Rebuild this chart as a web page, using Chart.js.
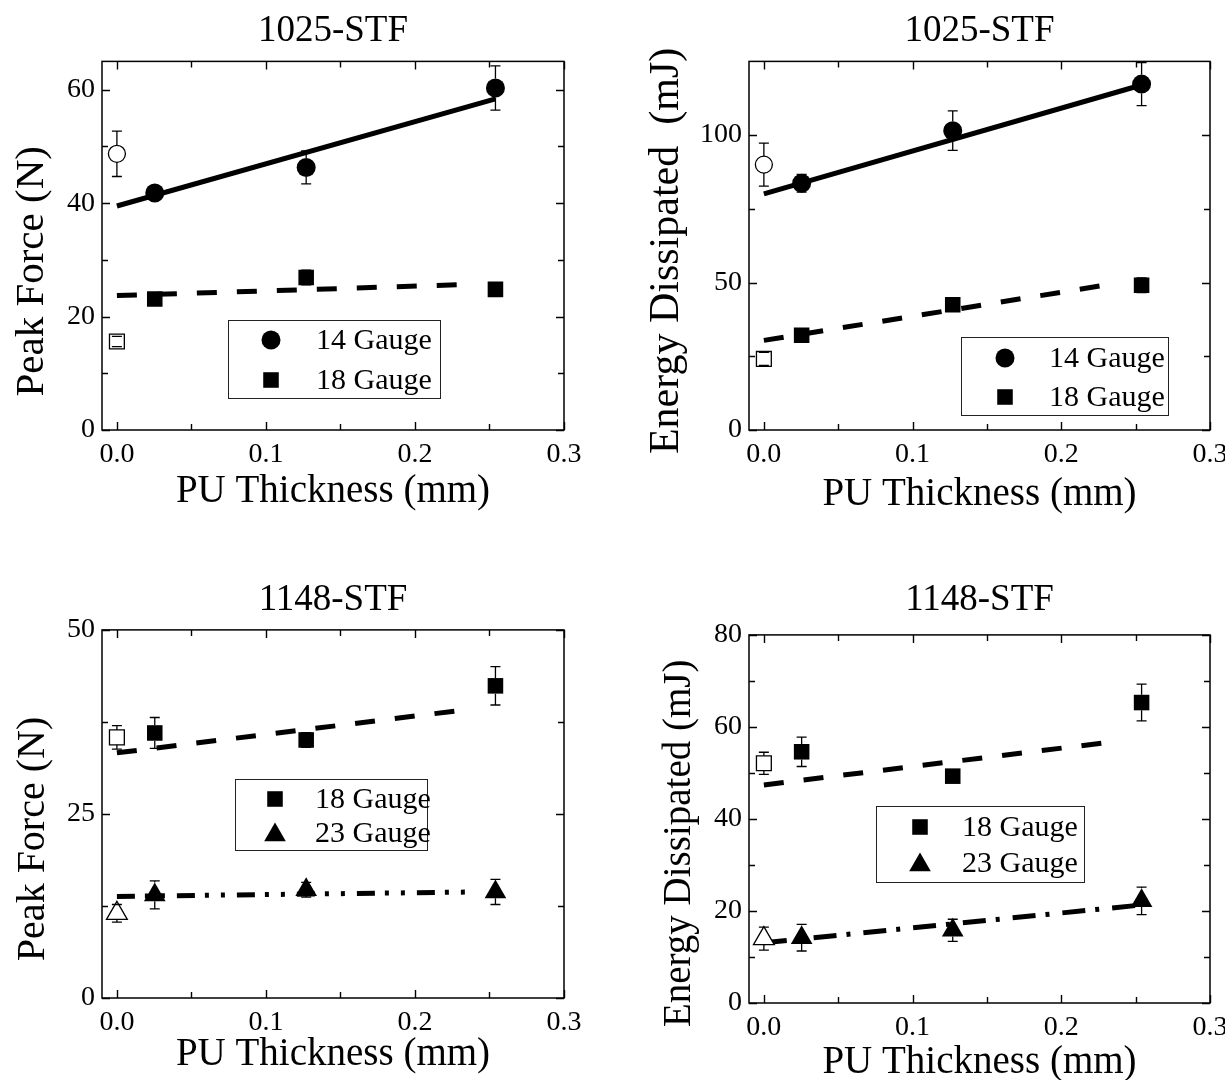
<!DOCTYPE html>
<html>
<head>
<meta charset="utf-8">
<script src="https://cdn.jsdelivr.net/npm/chart.js@4/dist/chart.umd.min.js"></script>
<style>
html,body{margin:0;padding:0;background:#fff;overflow:hidden;width:1225px;height:1080px;}
canvas{position:absolute;display:block;}
</style>
</head>
<body>
<canvas id="c1" width="612" height="520" style="left:0;top:0"></canvas>
<canvas id="c2" width="613" height="520" style="left:612px;top:0"></canvas>
<canvas id="c3" width="612" height="520" style="left:0;top:560px"></canvas>
<canvas id="c4" width="613" height="520" style="left:612px;top:563px"></canvas>
<script>
// ---------- DATA ----------
const thickness = [0.0254, 0.127, 0.254];   // PU thickness (mm)
const bareThickness = [0];                  // neat STF (no PU)
const xTickValues = [0, 0.1, 0.2, 0.3];
const xTickLabels = ['0.0', '0.1', '0.2', '0.3'];
const xMinorTicks = [0.05, 0.15, 0.25];

// 1025-STF, Peak Force (N)
const pf1025_g14 = [41.8, 46.3, 60.3];
const pf1025_g14_err = [1.2, 2.9, 3.9];
const pf1025_g14_bare = [48.7];
const pf1025_g14_bare_err = [4.0];
const pf1025_g18 = [23.1, 26.9, 24.8];
const pf1025_g18_err = [0.9, 1.3, 1.0];
const pf1025_g18_bare = [15.6];
const pf1025_g18_bare_err = [0.9];
const pf1025_g14_fitX = [0, 0.254];
const pf1025_g14_fit = [39.5, 58.4];
const pf1025_g18_fitX = [0, 0.228];
const pf1025_g18_fit = [23.7, 25.6];
const pf1025_yTicks = [0, 20, 40, 60];
const pf1025_yMinor = [10, 30, 50];

// 1025-STF, Energy Dissipated (mJ)
const en1025_g14 = [83.7, 101.5, 117.3];
const en1025_g14_err = [3.0, 6.7, 7.3];
const en1025_g14_bare = [90.0];
const en1025_g14_bare_err = [7.3];
const en1025_g18 = [32.1, 42.5, 49.1];
const en1025_g18_err = [1.0, 1.2, 2.5];
const en1025_g18_bare = [24.1];
const en1025_g18_bare_err = [2.2];
const en1025_g14_fitX = [0, 0.254];
const en1025_g14_fit = [80.1, 117.0];
const en1025_g18_fitX = [0, 0.228];
const en1025_g18_fit = [30.4, 49.0];
const en1025_yTicks = [0, 50, 100];
const en1025_yMinor = [25, 75];

// 1148-STF, Peak Force (N)
const pf1148_g18 = [36.0, 35.05, 42.4];
const pf1148_g18_err = [2.1, 1.0, 2.6];
const pf1148_g18_bare = [35.4];
const pf1148_g18_bare_err = [1.6];
const pf1148_g23 = [14.0, 14.7, 14.4];
const pf1148_g23_err = [1.9, 1.0, 1.7];
const pf1148_g23_bare = [11.5];
const pf1148_g23_bare_err = [1.2];
const pf1148_g18_fitX = [0, 0.228];
const pf1148_g18_fit = [33.3, 39.0];
const pf1148_g23_fitX = [0, 0.24];
const pf1148_g23_fit = [13.8, 14.4];
const pf1148_yTicks = [0, 25, 50];
const pf1148_yMinor = [12.5, 37.5];

// 1148-STF, Energy Dissipated (mJ)
const en1148_g18 = [54.6, 49.3, 65.3];
const en1148_g18_err = [3.2, 1.0, 4.0];
const en1148_g18_bare = [52.1];
const en1148_g18_bare_err = [2.4];
const en1148_g23 = [14.2, 15.8, 22.2];
const en1148_g23_err = [2.9, 2.4, 3.0];
const en1148_g23_bare = [14.0];
const en1148_g23_bare_err = [2.5];
const en1148_g18_fitX = [0, 0.228];
const en1148_g18_fit = [47.4, 56.5];
const en1148_g23_fitX = [0, 0.26];
const en1148_g23_fit = [13.1, 21.5];
const en1148_yTicks = [0, 20, 40, 60, 80];
const en1148_yMinor = [10, 30, 50, 70];

// ---------- HELPERS ----------
const FONT = '"Liberation Serif", "Times New Roman", Times, serif';
const pts = (xs, ys) => xs.map((x, i) => ({x: x, y: ys[i]}));
const pad = n => '\u00a0'.repeat(n);

const STYLE = {
  circle:   {pointStyle: 'circle',   radius: 9.5},
  rect:     {pointStyle: 'rect',     radius: 11},
  triangle: {pointStyle: 'triangle', radius: 12.5},
  circleO:  {pointStyle: 'circle',   radius: 8.5},
  rectO:    {pointStyle: 'rect',     radius: 10.5},
  triangleO:{pointStyle: 'triangle', radius: 12}
};

function pointDs(label, xs, ys, errs, style, filled) {
  const s = STYLE[style];
  return {
    label: label,
    data: pts(xs, ys),
    errors: errs,
    showLine: false,
    pointStyle: s.pointStyle,
    pointRadius: s.radius,
    pointBackgroundColor: filled ? '#000' : '#fff',
    pointBorderColor: '#000',
    pointBorderWidth: filled ? 0 : 1.3
  };
}
function fitDs(xs, ys, dash) {
  return {
    label: '_fit',
    data: pts(xs, ys),
    showLine: true,
    pointRadius: 0,
    borderColor: '#000',
    borderWidth: 5,
    borderDash: dash,
    borderCapStyle: 'butt',
    fill: false
  };
}

// frame + inward ticks on all four sides
const frameTicks = {
  id: 'frameTicks',
  afterDraw(chart, args, o) {
    const {ctx, chartArea: a} = chart;
    const x = chart.scales.x, y = chart.scales.y;
    ctx.save();
    ctx.strokeStyle = '#000';
    ctx.lineWidth = 1.5;
    ctx.strokeRect(a.left, a.top, a.right - a.left, a.bottom - a.top);
    ctx.lineWidth = 1.4;
    ctx.beginPath();
    const xt = (vals, len) => vals.forEach(v => {
      const p = Math.round(x.getPixelForValue(v)) + 0.5;
      ctx.moveTo(p, a.bottom); ctx.lineTo(p, a.bottom - len);
      ctx.moveTo(p, a.top); ctx.lineTo(p, a.top + len);
    });
    const yt = (vals, len) => vals.forEach(v => {
      const p = Math.round(y.getPixelForValue(v)) + 0.5;
      ctx.moveTo(a.left, p); ctx.lineTo(a.left + len, p);
      ctx.moveTo(a.right, p); ctx.lineTo(a.right - len, p);
    });
    xt(o.xMajor, 8); xt(o.xMinor, 6);
    yt(o.yMajor, 8); yt(o.yMinor, 6);
    ctx.stroke();
    ctx.restore();
  }
};

// vertical error bars
const errorBars = {
  id: 'errorBars',
  afterDatasetsDraw(chart) {
    const {ctx} = chart;
    const y = chart.scales.y;
    ctx.save();
    ctx.strokeStyle = '#000';
    ctx.lineWidth = 1.3;
    chart.data.datasets.forEach((ds, i) => {
      if (!ds.errors) return;
      const meta = chart.getDatasetMeta(i);
      const r = ds.pointRadius;
      let gu = r, gd = r;
      if (ds.pointStyle === 'rect') { gu = gd = r / Math.SQRT2; }
      if (ds.pointStyle === 'triangle') { gu = r; gd = r / 2; }
      meta.data.forEach((el, j) => {
        const v = ds.data[j].y, e = ds.errors[j];
        const top = y.getPixelForValue(v + e), bot = y.getPixelForValue(v - e);
        const cx = el.x, cy = el.y;
        ctx.beginPath();
        if (top < cy - gu) { ctx.moveTo(cx, top); ctx.lineTo(cx, cy - gu); }
        if (bot > cy + gd) { ctx.moveTo(cx, cy + gd); ctx.lineTo(cx, bot); }
        ctx.moveTo(cx - 5, top); ctx.lineTo(cx + 5, top);
        ctx.moveTo(cx - 5, bot); ctx.lineTo(cx + 5, bot);
        ctx.stroke();
      });
    });
    ctx.restore();
  }
};

function drawMarker(ctx, style, r, x, y) {
  ctx.beginPath();
  if (style === 'circle') {
    ctx.arc(x, y, r, 0, Math.PI * 2);
  } else if (style === 'rect') {
    const s = r / Math.SQRT2;
    ctx.rect(x - s, y - s, 2 * s, 2 * s);
  } else if (style === 'triangle') {
    let rad = 0;
    ctx.moveTo(x + Math.sin(rad) * r, y - Math.cos(rad) * r);
    rad += 2 * Math.PI / 3;
    ctx.lineTo(x + Math.sin(rad) * r, y - Math.cos(rad) * r);
    rad += 2 * Math.PI / 3;
    ctx.lineTo(x + Math.sin(rad) * r, y - Math.cos(rad) * r);
    ctx.closePath();
  }
  ctx.fill();
}

// boxed legend inside the plot
const boxLegend = {
  id: 'boxLegend',
  afterDraw(chart, args, o) {
    const {ctx} = chart;
    ctx.save();
    const [x1, y1, x2, y2] = o.box;
    ctx.fillStyle = '#fff';
    ctx.fillRect(x1, y1, x2 - x1, y2 - y1);
    ctx.strokeStyle = '#222';
    ctx.lineWidth = 1;
    ctx.strokeRect(x1 + 0.5, y1 + 0.5, x2 - x1, y2 - y1);
    o.items.forEach((it, k) => {
      const ds = chart.data.datasets[it.ds];
      ctx.fillStyle = '#000';
      drawMarker(ctx, ds.pointStyle, ds.pointRadius, o.markerX, o.rows[k] + (ds.pointStyle === 'triangle' ? 2 : 0));
      ctx.font = '30px ' + FONT;
      ctx.textBaseline = 'middle';
      ctx.textAlign = 'left';
      ctx.fillText(ds.label, o.textX, o.rows[k] + 1);
    });
    ctx.restore();
  }
};

function makeChart(id, c) {
  return new Chart(document.getElementById(id), {
    type: 'scatter',
    data: {datasets: c.datasets},
    plugins: [errorBars, frameTicks, boxLegend],
    options: {
      responsive: false,
      devicePixelRatio: 1,
      animation: false,
      events: [],
      layout: {padding: {left: 0, right: c.padRight, top: 0, bottom: 0}},
      plugins: {
        legend: {display: false},
        tooltip: {enabled: false},
        title: {
          display: true, text: c.title, color: '#000', fullSize: false,
          font: {family: FONT, size: 37, weight: 'normal', lineHeight: 1.2},
          padding: {top: c.titlePad[0], bottom: c.titlePad[1]}
        },
        frameTicks: {xMajor: xTickValues, xMinor: xMinorTicks, yMajor: c.yTicks, yMinor: c.yMinor},
        boxLegend: c.legend
      },
      scales: {
        x: {
          type: 'linear', min: -0.01, max: 0.3,
          afterBuildTicks: s => { s.ticks = xTickValues.map(v => ({value: v})); },
          afterFit: s => { s.height = c.xHeight; s.paddingLeft = 0; s.paddingRight = 0; },
          grid: {display: false, drawTicks: false},
          border: {display: false},
          ticks: {
            color: '#000', padding: 8, maxRotation: 0, autoSkip: false,
            font: {family: FONT, size: 28},
            callback: (v, i) => xTickLabels[i]
          },
          title: {
            display: true, text: 'PU Thickness (mm)', color: '#000',
            font: {family: FONT, size: 39, lineHeight: 1},
            padding: {top: 0, bottom: c.xTitlePad}
          }
        },
        y: {
          type: 'linear', min: 0, max: c.yMax,
          afterBuildTicks: s => { s.ticks = c.yTicks.map(v => ({value: v})); },
          afterFit: s => { s.width = c.yWidth; s.paddingTop = 0; s.paddingBottom = 0; },
          grid: {display: false, drawTicks: false},
          border: {display: false},
          ticks: {
            color: '#000', padding: 7, autoSkip: false,
            font: {family: FONT, size: 28},
            callback: (v, i) => String(c.yTicks[i])
          },
          title: {
            display: true, text: c.yTitle, color: '#000',
            font: {family: FONT, size: c.yTitleSize, lineHeight: 1},
            padding: {top: c.yTitlePad, bottom: 0}
          }
        }
      }
    }
  });
}

// ---------- CHARTS ----------
makeChart('c1', {
  title: '1025-STF', titlePad: [9, 8], padRight: 48, xHeight: 90, xTitlePad: 8.5,
  yWidth: 102, yMax: 65, yTicks: pf1025_yTicks, yMinor: pf1025_yMinor,
  yTitle: 'Peak Force (N)' + pad(5), yTitleSize: 41, yTitlePad: 12,
  datasets: [
    pointDs('14 Gauge', thickness, pf1025_g14, pf1025_g14_err, 'circle', true),
    pointDs('18 Gauge', thickness, pf1025_g18, pf1025_g18_err, 'rect', true),
    pointDs('14 Gauge, no PU', bareThickness, pf1025_g14_bare, pf1025_g14_bare_err, 'circleO', false),
    pointDs('18 Gauge, no PU', bareThickness, pf1025_g18_bare, pf1025_g18_bare_err, 'rectO', false),
    fitDs(pf1025_g14_fitX, pf1025_g14_fit, []),
    fitDs(pf1025_g18_fitX, pf1025_g18_fit, [20, 20])
  ],
  legend: {box: [228, 320, 440, 398], markerX: 271, textX: 316, rows: [340, 380],
           items: [{ds: 0}, {ds: 1}]}
});

makeChart('c2', {
  title: '1025-STF', titlePad: [9, 8], padRight: 15, xHeight: 90, xTitlePad: 6,
  yWidth: 137, yMax: 125, yTicks: en1025_yTicks, yMinor: en1025_yMinor,
  yTitle: 'Energy Dissipated  (mJ)' + pad(1), yTitleSize: 42, yTitlePad: 34,
  datasets: [
    pointDs('14 Gauge', thickness, en1025_g14, en1025_g14_err, 'circle', true),
    pointDs('18 Gauge', thickness, en1025_g18, en1025_g18_err, 'rect', true),
    pointDs('14 Gauge, no PU', bareThickness, en1025_g14_bare, en1025_g14_bare_err, 'circleO', false),
    pointDs('18 Gauge, no PU', bareThickness, en1025_g18_bare, en1025_g18_bare_err, 'rectO', false),
    fitDs(en1025_g14_fitX, en1025_g14_fit, []),
    fitDs(en1025_g18_fitX, en1025_g18_fit, [20, 20])
  ],
  legend: {box: [349, 337, 556, 415], markerX: 393, textX: 437, rows: [358, 397],
           items: [{ds: 0}, {ds: 1}]}
});

makeChart('c3', {
  title: '1148-STF', titlePad: [18.5, 7], padRight: 48, xHeight: 82, xTitlePad: 5.5,
  yWidth: 102, yMax: 50, yTicks: pf1148_yTicks, yMinor: pf1148_yMinor,
  yTitle: 'Peak Force (N)' + pad(5), yTitleSize: 40, yTitlePad: 13,
  datasets: [
    pointDs('18 Gauge', thickness, pf1148_g18, pf1148_g18_err, 'rect', true),
    pointDs('23 Gauge', thickness, pf1148_g23, pf1148_g23_err, 'triangle', true),
    pointDs('18 Gauge, no PU', bareThickness, pf1148_g18_bare, pf1148_g18_bare_err, 'rectO', false),
    pointDs('23 Gauge, no PU', bareThickness, pf1148_g23_bare, pf1148_g23_bare_err, 'triangleO', false),
    fitDs(pf1148_g18_fitX, pf1148_g18_fit, [20, 20]),
    fitDs(pf1148_g23_fitX, pf1148_g23_fit, [18, 10, 4, 12, 4, 12])
  ],
  legend: {box: [235, 219, 427, 290], markerX: 275, textX: 315, rows: [239, 273],
           items: [{ds: 0}, {ds: 1}]}
});

makeChart('c4', {
  title: '1148-STF', titlePad: [15.5, 12], padRight: 15, xHeight: 80, xTitlePad: 0.5,
  yWidth: 137, yMax: 80, yTicks: en1148_yTicks, yMinor: en1148_yMinor,
  yTitle: 'Energy Dissipated (mJ)' + pad(5), yTitleSize: 39, yTitlePad: 48,
  datasets: [
    pointDs('18 Gauge', thickness, en1148_g18, en1148_g18_err, 'rect', true),
    pointDs('23 Gauge', thickness, en1148_g23, en1148_g23_err, 'triangle', true),
    pointDs('18 Gauge, no PU', bareThickness, en1148_g18_bare, en1148_g18_bare_err, 'rectO', false),
    pointDs('23 Gauge, no PU', bareThickness, en1148_g23_bare, en1148_g23_bare_err, 'triangleO', false),
    fitDs(en1148_g18_fitX, en1148_g18_fit, [20, 20]),
    fitDs(en1148_g23_fitX, en1148_g23_fit, [23, 10, 4, 13])
  ],
  legend: {box: [264, 243, 472, 319], markerX: 308, textX: 350, rows: [264, 300],
           items: [{ds: 0}, {ds: 1}]}
});
</script>
</body>
</html>
